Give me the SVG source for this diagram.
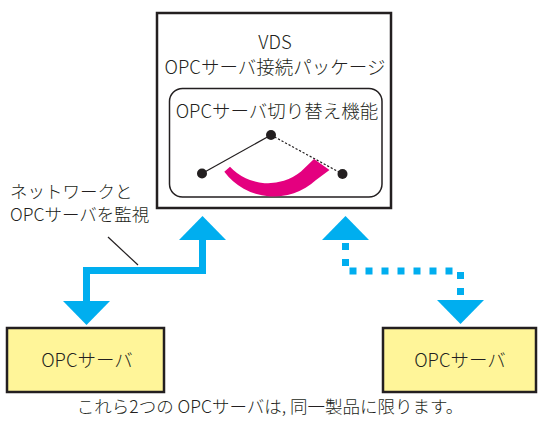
<svg xmlns="http://www.w3.org/2000/svg" width="538" height="423" viewBox="0 0 538 423">
<style>
text{font-family:"Noto Sans CJK JP","Noto Sans",sans-serif;fill:#231f20;font-size:17.5px;font-weight:300}
.c{text-anchor:middle}
.t{font-size:18.5px}
.box{fill:#fff;stroke:#231f20;stroke-width:2.5}
.srv{fill:#fff599;stroke:#231f20;stroke-width:2.5}
.blue{fill:none;stroke:#00aeef;stroke-width:7}
.dot{fill:#231f20}
</style>
<defs>
<marker id="ah" markerUnits="userSpaceOnUse" markerWidth="26" markerHeight="50" viewBox="0 -25 26 50" refX="0" refY="0" orient="auto-start-reverse">
<path d="M0,-23.5 L24,0 L0,23.5 Z" fill="#00aeef"/>
</marker>
</defs>
<g id="vds">
<rect class="box" x="157" y="13" width="234" height="195"/>
<text class="c t" x="275" y="49">VDS</text>
<text class="c t" x="275" y="74">OPCサーバ接続パッケージ</text>
</g>
<g id="switch">
<rect x="169.5" y="88.5" width="212.5" height="108.5" rx="13" fill="#fff" stroke="#231f20" stroke-width="1.5"/>
<text class="c t" x="277" y="118">OPCサーバ切り替え機能</text>
<line x1="202" y1="173.5" x2="271" y2="135" stroke="#231f20" stroke-width="1.3"/>
<line x1="271" y1="135" x2="342.5" y2="174" stroke="#231f20" stroke-width="1.2" stroke-dasharray="2.2 1.8"/>
<circle class="dot" cx="202" cy="173.5" r="5"/>
<circle class="dot" cx="271" cy="135" r="5"/>
<circle class="dot" cx="342.5" cy="174" r="5"/>
<path d="M224.3,171.7 A62,62 0 0 0 316,180 L329.5,170 L314,159 L301,171.5 A52,52 0 0 1 230,166.7 Z" fill="#e4007f"/>
</g>
<g id="server1">
<rect class="srv" x="7" y="328" width="157" height="64"/>
<text class="c t" x="87" y="367">OPCサーバ</text>
</g>
<g id="server2">
<rect class="srv" x="383" y="328" width="153" height="64"/>
<text class="c t" x="460" y="367">OPCサーバ</text>
</g>
<g id="connectors">
<path class="blue" d="M202.5,240 V270.5 H86.5 V301" marker-start="url(#ah)" marker-end="url(#ah)"/>
<path class="blue" d="M345.5,240 V271 H460.5 V300" stroke-dasharray="7 9" stroke-dashoffset="13" marker-start="url(#ah)" marker-end="url(#ah)"/>
<line x1="108" y1="237" x2="138" y2="265" stroke="#231f20" stroke-width="1.2"/>
</g>
<g id="labels">
<text x="10" y="198">ネットワークと</text>
<text x="10" y="221">OPCサーバを監視</text>
<text class="c" x="270" y="413">これら2つの OPCサーバは, 同一製品に限ります。</text>
</g>
</svg>
